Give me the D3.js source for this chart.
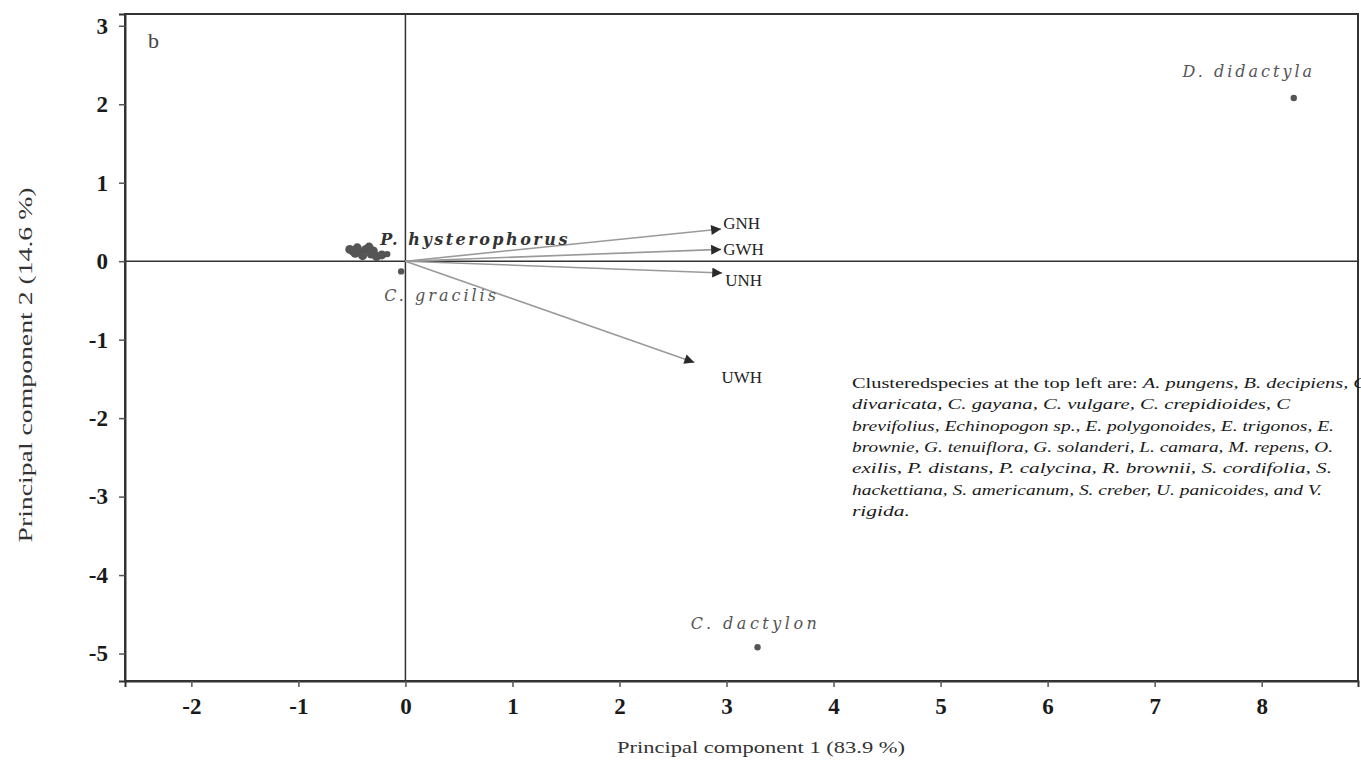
<!DOCTYPE html>
<html><head><meta charset="utf-8">
<script src="https://cdn.jsdelivr.net/npm/d3@7"></script>
<style>
body{margin:0;background:#fff;}
svg{display:block;}
</style></head>
<body>
<svg id="chart" width="1361" height="763"></svg>
<script>
// ---- data ----
const xTicks = [-2,-1,0,1,2,3,4,5,6,7,8];
const yTicks = [-5,-4,-3,-2,-1,0,1,2,3];
const speciesNames = ["D. didactyla","C. dactylon","P. hysterophorus","C. gracilis"];
const speciesPC1 = [8.3, 3.29, -0.17, -0.04];
const speciesPC2 = [2.08, -4.92, 0.09, -0.13];
const clusterPC1 = [-0.52,-0.49,-0.45,-0.41,-0.37,-0.34,-0.32,-0.27,-0.22,-0.47,-0.40,-0.30];
const clusterPC2 = [0.15,0.13,0.17,0.11,0.15,0.18,0.09,0.06,0.08,0.10,0.07,0.13];
const varNames = ["GNH","GWH","UNH","UWH"];
const loadPC1 = [2.95, 2.95, 2.96, 2.70];
const loadPC2 = [0.41, 0.15, -0.15, -1.29];
const xTitle = "Principal component 1 (83.9 %)";
const yTitle = "Principal component 2 (14.6 %)";
const panelLabel = "b";
const noteLines = [
  [["Clusteredspecies at the top left are: ",0],["A. pungens, B. decipiens, C",1]],
  [["divaricata, C. gayana, C. vulgare, C. crepidioides, C",1]],
  [["brevifolius, Echinopogon sp., E. polygonoides, E. trigonos, E.",1]],
  [["brownie, G. tenuiflora, G. solanderi, L. camara, M. repens, O.",1]],
  [["exilis, P. distans, P. calycina, R. brownii, S. cordifolia, S.",1]],
  [["hackettiana, S. americanum, S. creber, U. panicoides, and V.",1]],
  [["rigida.",1]]
];

// ---- layout / style ----
const svg = d3.select("#chart");
const x = d3.scaleLinear().domain([-2.62, 8.9]).range([125, 1358]);
const y = d3.scaleLinear().domain([-5.35, 3.15]).range([681, 14]);
const serif = "'Liberation Serif','Times New Roman',serif";
const labelOffsets = [[-45,-21],[-2,-18],[-7,-9],[-17,30]];
const labelAnchors = ["middle","middle","start","start"];
const labelBold = [false,false,true,false];
const labelSpacing = [3,3.5,2.5,3];
const varOffsets = [[2,0],[2,6],[3,13],[27,21]];
const noteWidths = [515,438,482,481,480,470,58];

svg.append("defs").append("marker")
  .attr("id","ah").attr("viewBox","0 0 10 10").attr("refX",10).attr("refY",5)
  .attr("markerWidth",13).attr("markerHeight",10).attr("markerUnits","userSpaceOnUse")
  .attr("orient","auto")
  .append("path").attr("d","M0,0 L10,5 L0,10 Z").attr("fill","#2a2a2a");

// frame
svg.append("rect").attr("x",x.range()[0]).attr("y",y.range()[1])
  .attr("width",x.range()[1]-x.range()[0]).attr("height",y.range()[0]-y.range()[1])
  .attr("fill","none").attr("stroke","#333").attr("stroke-width",2);

// zero lines
svg.append("line").attr("x1",x(0)).attr("x2",x(0)).attr("y1",y.range()[1]).attr("y2",y.range()[0])
  .attr("stroke","#333").attr("stroke-width",1.5);
svg.append("line").attr("x1",x.range()[0]).attr("x2",x.range()[1]).attr("y1",y(0)).attr("y2",y(0))
  .attr("stroke","#333").attr("stroke-width",1.5);

// axes
const fmt = d => String(d);
const xAxis = svg.append("g").attr("transform",`translate(0,${y.range()[0]})`)
  .call(d3.axisBottom(x).tickValues(xTicks).tickSize(6).tickPadding(11).tickFormat(fmt));
const yAxis = svg.append("g").attr("transform",`translate(${x.range()[0]},0)`)
  .call(d3.axisLeft(y).tickValues(yTicks).tickSize(6).tickPadding(11).tickFormat(fmt));
[xAxis,yAxis].forEach(g=>{
  g.select(".domain").attr("stroke","#333").attr("stroke-width",2);
  g.selectAll(".tick line").attr("stroke","#555").attr("stroke-width",1.5);
  g.selectAll(".tick text").attr("font-family",serif).attr("font-weight","bold")
    .attr("font-size",23).attr("fill","#1a1a1a");
});

// axis titles
svg.append("text").attr("x",761).attr("y",753).attr("text-anchor","middle")
  .attr("font-family",serif).attr("font-size",17).attr("fill","#333")
  .attr("textLength",288).attr("lengthAdjust","spacingAndGlyphs").text(xTitle);
svg.append("text").attr("transform","translate(32,365) rotate(-90)").attr("text-anchor","middle")
  .attr("font-family",serif).attr("font-size",18).attr("fill","#333")
  .attr("textLength",355).attr("lengthAdjust","spacingAndGlyphs").text(yTitle);
svg.append("text").attr("x",148).attr("y",48).attr("font-family",serif).attr("font-size",22)
  .attr("fill","#444").text(panelLabel);

// loading arrows
varNames.forEach((v,i)=>{
  svg.append("line").attr("x1",x(0)).attr("y1",y(0)).attr("x2",x(loadPC1[i])).attr("y2",y(loadPC2[i]))
    .attr("stroke","#9a9a9a").attr("stroke-width",1.6).attr("marker-end","url(#ah)");
  svg.append("text").attr("x",x(loadPC1[i])+varOffsets[i][0]).attr("y",y(loadPC2[i])+varOffsets[i][1])
    .attr("font-family",serif).attr("font-size",17).attr("fill","#222").text(v);
});

// cluster points
clusterPC1.forEach((v,i)=>{
  svg.append("circle").attr("cx",x(v)).attr("cy",y(clusterPC2[i])).attr("r",4.5).attr("fill","#555");
});

// species points + labels
speciesNames.forEach((s,i)=>{
  svg.append("circle").attr("cx",x(speciesPC1[i])).attr("cy",y(speciesPC2[i])).attr("r",3.2).attr("fill","#555");
  svg.append("text").attr("x",x(speciesPC1[i])+labelOffsets[i][0]).attr("y",y(speciesPC2[i])+labelOffsets[i][1])
    .attr("text-anchor",labelAnchors[i])
    .attr("font-family","'DejaVu Serif',serif").attr("font-style","italic")
    .attr("font-weight",labelBold[i]?"bold":"normal")
    .attr("letter-spacing",labelSpacing[i])
    .attr("font-size",16).attr("fill",labelBold[i]?"#333":"#555").text(s);
});

// note
noteLines.forEach((line,i)=>{
  const t = svg.append("text").attr("x",852).attr("y",388+i*21.3)
    .attr("font-family",serif).attr("font-size",15).attr("fill","#1a1a1a")
    .attr("textLength",noteWidths[i]).attr("lengthAdjust","spacingAndGlyphs");
  line.forEach(([txt,it])=>{
    t.append("tspan").attr("font-style",it?"italic":"normal").text(txt);
  });
});
</script>
</body></html>
